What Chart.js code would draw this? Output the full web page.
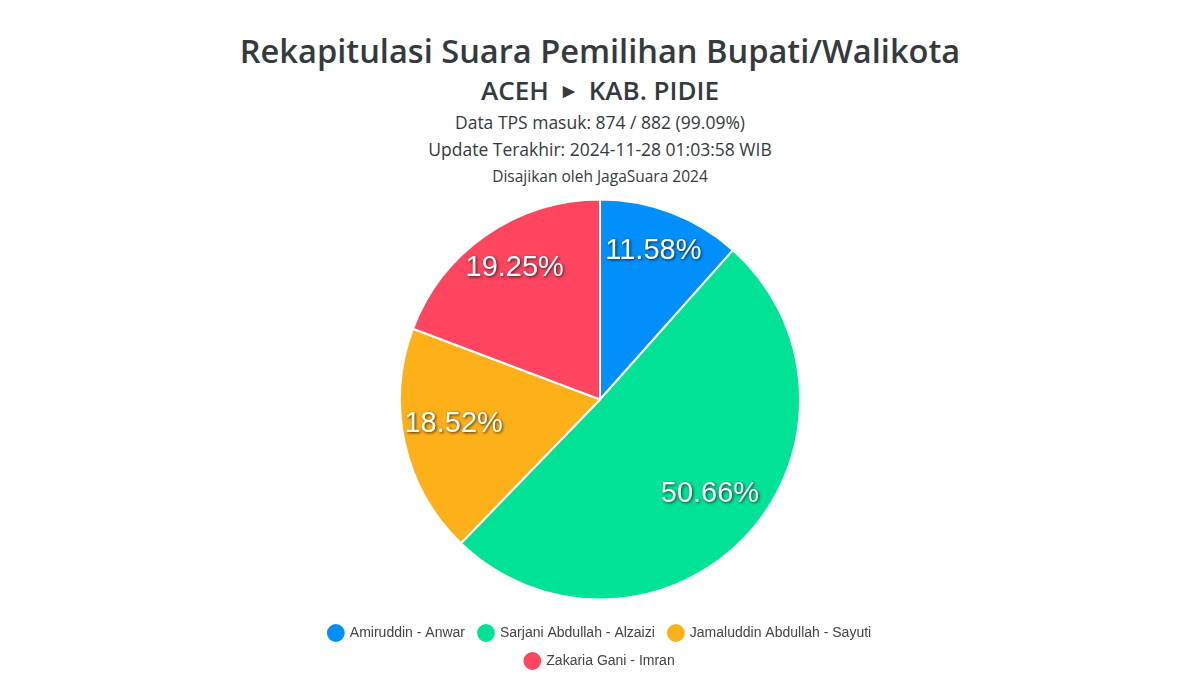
<!DOCTYPE html>
<html>
<head>
<meta charset="utf-8">
<script src="https://cdn.jsdelivr.net/npm/chart.js@4.4.1/dist/chart.umd.min.js"></script>
<style>
    html, body { margin: 0; padding: 0; background: #ffffff; }
    body { width: 1200px; height: 675px; position: relative; overflow: hidden; font-family: 'Open Sans', sans-serif; color: #343a40; }
    .head { position: absolute; left: 0; width: 1200px; text-align: center; white-space: nowrap; }
    #t1 { top: 28px; font-size: 32.6px; font-weight: 600; }
    #t2 { top: 72px; font-size: 26px; font-weight: 600; }
    #t2 .arrow { font-size: 15px; vertical-align: 4px; margin: 0 14px; }
    #t3 { top: 110px; font-size: 17.5px; }
    #t4 { top: 137px; font-size: 17.5px; }
    #t5 { top: 165px; font-size: 15.5px; }
    .wrap { position: absolute; left: 280px; top: 185px; width: 640px; height: 493px; }
</style>
</head>
<body>
<div class="head" id="t1">Rekapitulasi Suara Pemilihan Bupati/Walikota</div>
<div class="head" id="t2">ACEH<span class="arrow">&#9654;</span>KAB. PIDIE</div>
<div class="head" id="t3">Data TPS masuk: 874 / 882 (99.09%)</div>
<div class="head" id="t4">Update Terakhir: 2024-11-28 01:03:58 WIB</div>
<div class="head" id="t5">Disajikan oleh JagaSuara 2024</div>
<div class="wrap"><canvas id="pieSuara"></canvas></div>
<script>
const candidates = ['Amiruddin - Anwar', 'Sarjani Abdullah - Alzaizi', 'Jamaluddin Abdullah - Sayuti', 'Zakaria Gani - Imran'];
const voteShare = [11.58, 50.66, 18.52, 19.25];
const sliceColors = ['#008FFB', '#00E396', '#FEB019', '#FF4560'];

// percentage labels inside each slice
const sliceLabels = {
    id: 'sliceLabels',
    afterDatasetsDraw(chart) {
        const ctx = chart.ctx;
        const meta = chart.getDatasetMeta(0);
        ctx.save();
        ctx.font = '29px "Liberation Sans", Arial, sans-serif';
        ctx.textAlign = 'center';
        ctx.textBaseline = 'middle';
        ctx.fillStyle = '#ffffff';
        ctx.shadowColor = 'rgba(0, 0, 0, 0.75)';
        ctx.shadowBlur = 3;
        ctx.shadowOffsetX = 1;
        ctx.shadowOffsetY = 1;
        meta.data.forEach(function(arc, i) {
            const mid = (arc.startAngle + arc.endAngle) / 2;
            const r = arc.outerRadius * 0.75;
            const x = arc.x + Math.cos(mid) * r;
            const y = arc.y + Math.sin(mid) * r - 8;
            ctx.fillText(voteShare[i].toFixed(2) + '%', x, y);
        });
        ctx.restore();
    }
};

new Chart(document.getElementById('pieSuara'), {
    type: 'pie',
    data: {
        labels: candidates,
        datasets: [{
            data: voteShare,
            backgroundColor: sliceColors,
            borderColor: '#ffffff',
            borderWidth: 2,
            radius: 200
        }]
    },
    options: {
        responsive: true,
        maintainAspectRatio: false,
        animation: false,
        layout: {
            padding: { top: 2, bottom: 0 }
        },
        plugins: {
            legend: {
                display: true,
                position: 'bottom',
                labels: {
                    usePointStyle: true,
                    pointStyle: 'circle',
                    boxWidth: 14,
                    boxHeight: 14,
                    padding: 14,
                    color: '#444',
                    font: {
                        family: '"Liberation Sans", Arial, sans-serif',
                        size: 14
                    }
                }
            },
            tooltip: { enabled: false }
        }
    },
    plugins: [sliceLabels]
});
</script>
</body>
</html>
